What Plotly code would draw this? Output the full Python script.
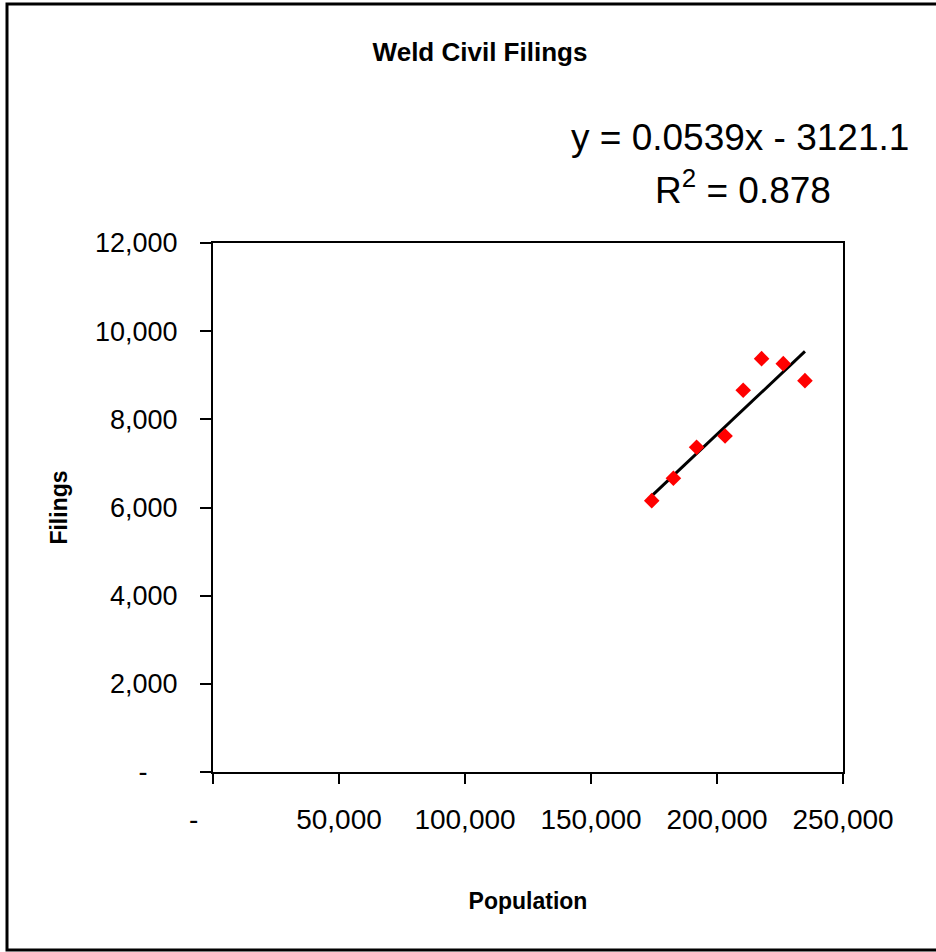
import plotly.graph_objects as go

# Population vs. civil filings, Weld County
population = [174100, 182700, 191900, 203200, 210400, 217700, 226300, 234900]
filings = [6155, 6663, 7366, 7622, 8659, 9376, 9263, 8877]

# Linear trend as reported on the chart
slope = 0.0539
intercept = -3121.1
r_squared = 0.878

x_ticks = [0, 50000, 100000, 150000, 200000, 250000]
x_labels = ["-\u00a0\u00a0\u00a0\u00a0\u00a0", "50,000", "100,000", "150,000", "200,000", "250,000"]
y_ticks = [0, 2000, 4000, 6000, 8000, 10000, 12000]
y_labels = ["-\u00a0\u00a0\u00a0\u00a0", "2,000", "4,000", "6,000", "8,000", "10,000", "12,000"]

trend_x = [min(population), max(population)]
trend_y = [slope * v + intercept for v in trend_x]

FONT = "Liberation Sans, Arial, sans-serif"

fig = go.Figure()
fig.add_trace(go.Scatter(
    x=trend_x, y=trend_y, mode="lines",
    line=dict(color="black", width=3), showlegend=False, hoverinfo="skip",
))
fig.add_trace(go.Scatter(
    x=population, y=filings, mode="markers",
    marker=dict(symbol="diamond", size=12, color="#ff0000", line=dict(width=0)),
    showlegend=False,
))

fig.update_layout(
    width=936, height=952,
    margin=dict(l=213, r=93, t=243, b=180),
    paper_bgcolor="white", plot_bgcolor="white",
    font=dict(family=FONT, color="black"),
    title=dict(text="<b>Weld Civil Filings</b>", x=480 / 936, xanchor="center",
               y=1 - 52 / 952, yanchor="middle", font=dict(size=26, family=FONT)),
    xaxis=dict(
        range=[0, 250000], tickvals=x_ticks, ticktext=x_labels,
        showgrid=False, zeroline=False, showline=True, linecolor="black", linewidth=2,
        mirror=True, ticks="outside", ticklen=10, tickwidth=2, tickcolor="black",
        tickfont=dict(size=28, family=FONT), ticklabelstandoff=11,
        title=dict(text="<b>Population</b>", font=dict(size=23, family=FONT), standoff=59),
    ),
    yaxis=dict(
        range=[0, 12000], tickvals=y_ticks, ticktext=y_labels,
        showgrid=False, zeroline=False, showline=True, linecolor="black", linewidth=2,
        mirror=True, ticks="outside", ticklen=11, tickwidth=2, tickcolor="black",
        tickfont=dict(size=27, family=FONT), ticklabelstandoff=17,
        title=dict(text="<b>Filings</b>", font=dict(size=23, family=FONT), standoff=21),
    ),
    annotations=[
        dict(text=f"y = {slope}x - {abs(intercept)}", xref="paper", yref="paper",
             x=(740 - 213) / 630, y=(772 - 137) / 529, xanchor="center", yanchor="middle",
             showarrow=False, font=dict(size=37, family=FONT)),
        dict(text=f"R<sup>2</sup> = {r_squared}", xref="paper", yref="paper",
             x=(743 - 213) / 630, y=(772 - 188) / 529, xanchor="center", yanchor="middle",
             showarrow=False, font=dict(size=37, family=FONT)),
    ],
    shapes=[
        dict(type="rect", xref="paper", yref="paper",
             x0=(7 - 213) / 630, x1=(945 - 213) / 630,
             y0=(772 - 950) / 529, y1=(772 - 4) / 529,
             line=dict(color="black", width=3), layer="below"),
    ],
)

fig.write_html("out.html")
